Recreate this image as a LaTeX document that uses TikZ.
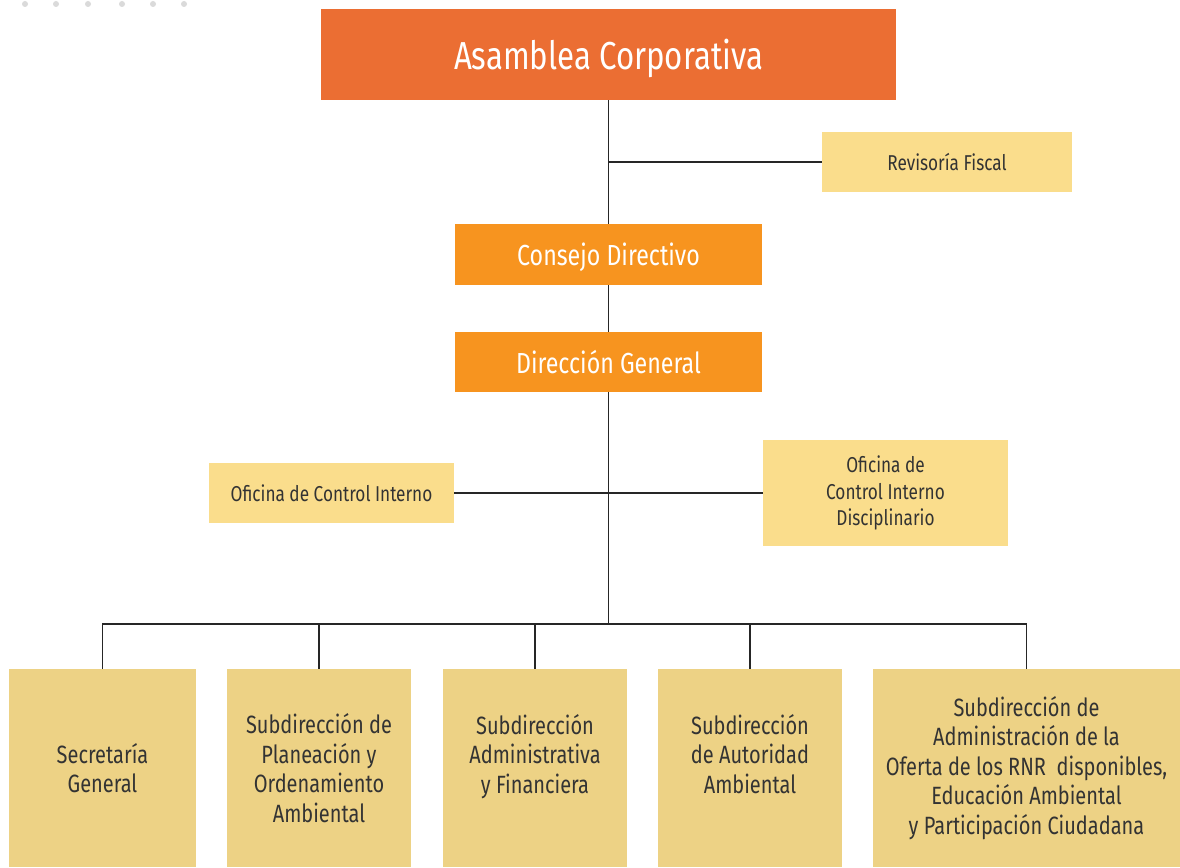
\documentclass[tikz,border=0pt]{standalone}
\usepackage{fontspec}
\setmainfont{Fira Sans}[FakeStretch=0.8]
\usetikzlibrary{positioning}

\definecolor{asamblea}{HTML}{EB6E33}
\definecolor{consejo}{HTML}{F7941F}
\definecolor{staff}{HTML}{FADD8C}
\definecolor{subdir}{HTML}{EDD285}
\definecolor{texto}{HTML}{333333}
\definecolor{punto}{HTML}{DADADA}

\tikzset{
    cabeza/.style={fill=asamblea, text=white, inner sep=0pt, align=center, text depth=0pt},
    mando/.style={fill=consejo, text=white, inner sep=0pt, align=center, text depth=0pt,
        minimum width=307pt, minimum height=61pt, font=\fontsize{29}{32}\selectfont},
    apoyo/.style={fill=staff, text=texto, inner sep=0pt, align=center,
        minimum width=245pt, minimum height=60pt, font=\fontsize{21.5}{26.5}\selectfont},
    dependencia/.style={fill=subdir, text=texto, inner sep=0pt, align=center,
        minimum width=184pt, minimum height=198pt, font=\fontsize{25}{29.5}\selectfont},
    enlace/.style={draw=black!85, line width=1.5pt}
}

\begin{document}
\begin{tikzpicture}[x=1pt,y=-1pt]
    \useasboundingbox (0,0) rectangle (1180,867);

    \foreach \x in {25,56,88,122,153,184}
        \fill[punto] (\x,4) circle (3);

    % cabeza del organigrama
    \node[cabeza, minimum width=575pt, minimum height=91pt, font=\fontsize{39}{44}\selectfont]
        (asamblea) at (608.5,54.5) {Asamblea Corporativa};
    \node[apoyo, minimum width=250pt] (revisoria) at (947,162) {Revisoría Fiscal};
    \node[mando] (consejo) at (608.5,254.5) {Consejo Directivo};
    \node[mando, minimum height=60pt] (direccion) at (608.5,362) {Dirección General};

    % oficinas asesoras
    \node[apoyo] (control) at (331.5,493) {Oficina de Control Interno};
    \node[apoyo, minimum height=106pt] (disciplinario) at (885.5,493)
        {Oficina de\\Control Interno\\Disciplinario};

    % subdirecciones
    \node[dependencia, minimum width=187pt] (secretaria) at (102.5,768) {Secretaría\\General};
    \node[dependencia] (planeacion) at (319,768)
        {Subdirección de\\Planeación y\\Ordenamiento\\Ambiental};
    \node[dependencia] (administrativa) at (535,768)
        {Subdirección\\Administrativa\\y Financiera\\[-10pt]\strut};
    \node[dependencia] (autoridad) at (750,768)
        {Subdirección\\de Autoridad\\Ambiental\\[-10pt]\strut};
    \node[dependencia, minimum width=307pt] (oferta) at (1026.5,768)
        {Subdirección de\\Administración de la\\Oferta de los RNR\ \ disponibles,\\Educación Ambiental\\y Participación Ciudadana};

    \coordinate (bus) at (608.5,624);

    \draw[enlace] (asamblea.south) -- (consejo.north);
    \draw[enlace] (asamblea.south |- revisoria.west) -- (revisoria.west);
    \draw[enlace] (consejo.south) -- (direccion.north);
    \draw[enlace] (direccion.south) -- (bus);
    \draw[enlace] (control.east) -- (disciplinario.west);

    \draw[enlace] (secretaria.north) |- (bus) -| (oferta.north);
    \foreach \n in {planeacion,administrativa,autoridad}
        \draw[enlace] (\n.north) -- (\n.north |- bus);
\end{tikzpicture}
\end{document}
